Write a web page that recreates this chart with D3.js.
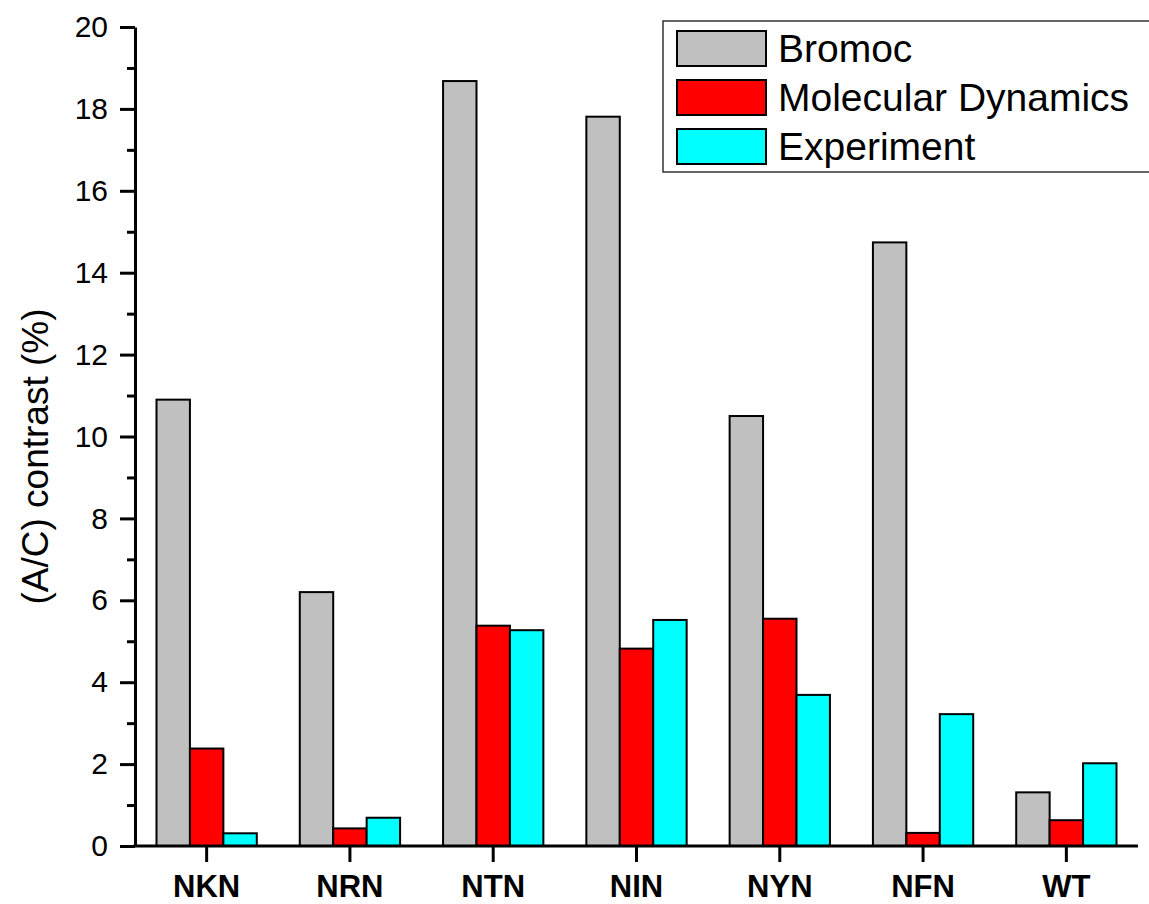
<!DOCTYPE html>
<html>
<head>
<meta charset="utf-8">
<script src="https://cdn.jsdelivr.net/npm/d3@7"></script>
<style>
  html, body { margin: 0; padding: 0; background: #fff; }
  svg { display: block; font-family: "Liberation Sans", Arial, sans-serif; }
</style>
</head>
<body>
<svg id="chart" width="1149" height="904"></svg>
<script>
// Peptide variants along the x axis
const categories = ["NKN", "NRN", "NTN", "NIN", "NYN", "NFN", "WT"];

// (A/C) contrast in percent for each method
const bromoc    = [10.9, 6.2, 18.68, 17.81, 10.5, 14.74, 1.31];
const molDyn    = [2.38, 0.43, 5.38, 4.82, 5.55, 0.32, 0.63];
const experiment = [0.31, 0.69, 5.27, 5.52, 3.69, 3.22, 2.02];

const seriesNames = ["Bromoc", "Molecular Dynamics", "Experiment"];
const seriesColors = ["#c0c0c0", "#ff0000", "#00ffff"];
const seriesValues = [bromoc, molDyn, experiment];

const yTicks = [0, 2, 4, 6, 8, 10, 12, 14, 16, 18, 20];
const yMinorTicks = [1, 3, 5, 7, 9, 11, 13, 15, 17, 19];

const svg = d3.select("#chart");

const plot = { left: 135, right: 1138, top: 27, bottom: 846 };

const x = d3.scaleBand()
  .domain(categories)
  .range([plot.left, plot.right])
  .paddingInner(0.3)
  .paddingOuter(0.15);

const xSub = d3.scaleBand()
  .domain(seriesNames)
  .range([0, x.bandwidth()]);

const y = d3.scaleLinear()
  .domain([0, 20])
  .range([plot.bottom, plot.top]);

// Bars
const rows = categories.map((c, i) => ({
  cat: c,
  vals: seriesNames.map((s, k) => ({ name: s, value: seriesValues[k][i], color: seriesColors[k] }))
}));

const groups = svg.append("g").selectAll("g")
  .data(rows)
  .join("g")
  .attr("transform", d => `translate(${x(d.cat)},0)`);

groups.selectAll("rect")
  .data(d => d.vals)
  .join("rect")
  .attr("x", d => xSub(d.name))
  .attr("width", xSub.bandwidth())
  .attr("y", d => y(d.value))
  .attr("height", d => y(0) - y(d.value))
  .attr("fill", d => d.color)
  .attr("stroke", "#000")
  .attr("stroke-width", 2);

// Y axis
const yAxis = svg.append("g")
  .attr("transform", `translate(${plot.left},0)`)
  .call(d3.axisLeft(y).tickValues(yTicks).tickSize(15).tickPadding(12).tickSizeOuter(0));

const yMinor = svg.append("g")
  .attr("transform", `translate(${plot.left},0)`)
  .call(d3.axisLeft(y).tickValues(yMinorTicks).tickSize(8).tickFormat("").tickSizeOuter(0));
yMinor.select(".domain").remove();

[yAxis, yMinor].forEach(g => {
  g.selectAll("line").attr("stroke", "#000").attr("stroke-width", 3);
  g.select(".domain").attr("stroke", "#000").attr("stroke-width", 3);
});
yAxis.attr("font-size", 30).attr("font-family", "Liberation Sans, Arial, sans-serif");
yAxis.selectAll("text").attr("fill", "#000");

// X axis
const xAxis = svg.append("g")
  .attr("transform", `translate(0,${plot.bottom})`)
  .call(d3.axisBottom(x).tickSize(16).tickPadding(13).tickSizeOuter(0));
xAxis.select(".domain").attr("stroke", "#000").attr("stroke-width", 3)
  .attr("d", `M${plot.left - 1.5},0H${plot.right}`);
xAxis.selectAll("line").attr("stroke", "#000").attr("stroke-width", 3);
xAxis.attr("font-size", 31).attr("font-weight", "bold")
  .attr("font-family", "Liberation Sans, Arial, sans-serif");
xAxis.selectAll("text").attr("fill", "#000");

// Y axis title
svg.append("text")
  .attr("transform", `translate(48,${(plot.top + plot.bottom) / 2 + 20}) rotate(-90)`)
  .attr("text-anchor", "middle")
  .attr("font-size", 37)
  .attr("fill", "#000")
  .text("(A/C) contrast (%)");

// Legend
const legend = svg.append("g");
legend.append("rect")
  .attr("x", 663).attr("y", 21)
  .attr("width", 490).attr("height", 151)
  .attr("fill", "#fff")
  .attr("stroke", "#333")
  .attr("stroke-width", 1.5);

const legendRows = legend.selectAll("g.item")
  .data(seriesNames)
  .join("g")
  .attr("class", "item")
  .attr("transform", (d, i) => `translate(0,${31 + i * 49})`);

legendRows.append("rect")
  .attr("x", 677).attr("y", 0)
  .attr("width", 89).attr("height", 35)
  .attr("fill", (d, i) => seriesColors[i])
  .attr("stroke", "#000")
  .attr("stroke-width", 2);

legendRows.append("text")
  .attr("x", 778).attr("y", 31)
  .attr("font-size", 39)
  .attr("fill", "#000")
  .text(d => d);
</script>
</body>
</html>
